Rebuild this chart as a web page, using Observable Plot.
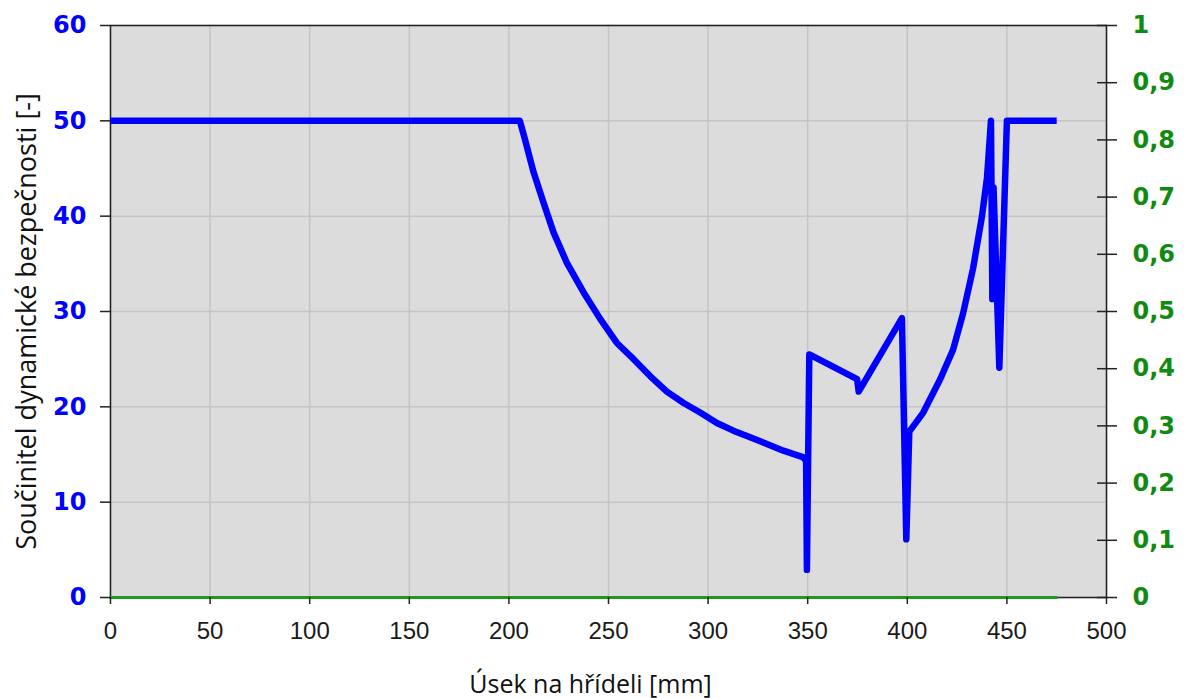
<!DOCTYPE html>
<html>
<head>
<meta charset="utf-8">
<script src="https://cdn.jsdelivr.net/npm/d3@7"></script>
<script src="https://cdn.jsdelivr.net/npm/@observablehq/plot@0.6"></script>
<style>
  html, body { margin: 0; padding: 0; background: #ffffff; }
  #chart svg { display: block; }
</style>
</head>
<body>
<div id="chart"></div>
<script>
// ---- data ----
const positions = [0, 205.5, 208, 212.4, 217.4, 222.4, 229.1, 237.5, 245.9, 254.2, 262.6, 271, 279.3, 287.7, 296, 304.4, 312.7, 321.1, 329.5, 337.8, 347.9, 349.2, 349.6, 350.8, 374.8, 375.6, 397.3, 399.5, 401, 408, 416.5, 423, 428, 433, 437.5, 440, 442, 442.7, 443.3, 446.2, 450, 475];
const safety    = [50, 50, 48.1, 44.6, 41.4, 38.3, 35.1, 32.0, 29.2, 26.7, 25.0, 23.2, 21.6, 20.4, 19.4, 18.3, 17.5, 16.8, 16.1, 15.4, 14.7, 14.3, 2.9, 25.5, 22.9, 21.6, 29.3, 6.1, 17.4, 19.4, 22.9, 26.0, 29.8, 34.5, 40.0, 44.0, 50.0, 31.3, 43.0, 24.1, 50, 50];
const greenX = [0, 475];
const greenValues = [0, 0];

const xTicks = [0, 50, 100, 150, 200, 250, 300, 350, 400, 450, 500];
const yTicks = [0, 10, 20, 30, 40, 50, 60];
const rightTicks = [0, 0.1, 0.2, 0.3, 0.4, 0.5, 0.6, 0.7, 0.8, 0.9, 1];
const rightMax = 1;
const yMax = 60;

const xTitle = "Úsek na hřídeli [mm]";
const yTitle = "Součinitel dynamické bezpečnosti [-]";

// ---- build ----
const blueData = positions.map((x, i) => ({x, y: safety[i]}));
const greenData = greenX.map((x, i) => ({x, y: greenValues[i] * yMax / rightMax}));
const rightTickPos = rightTicks.map(v => v * yMax / rightMax);
const rightFmt = d => String(+(d * rightMax / yMax).toFixed(1)).replace(".", ",");

const chart = Plot.plot({
  width: 1187,
  height: 698,
  marginLeft: 110,
  marginRight: 81,
  marginTop: 25,
  marginBottom: 101,
  style: { background: "#ffffff", fontFamily: "'Liberation Sans', Arial, sans-serif", overflow: "visible" },
  x: { domain: [0, 500] },
  y: { domain: [0, yMax] },
  marks: [
    Plot.frame({ fill: "#dcdcdc", stroke: "none" }),
    Plot.gridX(xTicks, { stroke: "#c4c4c4", strokeOpacity: 1, strokeWidth: 1.5 }),
    Plot.gridY(yTicks, { stroke: "#c4c4c4", strokeOpacity: 1, strokeWidth: 1.5 }),
    Plot.frame({ stroke: "#222222", strokeWidth: 1.5 }),
    Plot.line(greenData, { x: "x", y: "y", stroke: "#1f9a1f", strokeWidth: 3 }),
    Plot.line(blueData, { x: "x", y: "y", stroke: "#0000ff", strokeWidth: 6.5, strokeLinejoin: "round", strokeLinecap: "butt" }),
    Plot.axisX(xTicks, { tickSize: 7, tickPadding: 17, fontSize: 24, fill: "#1a1a1a", stroke: "#222222", strokeWidth: 1.5, label: null }),
    Plot.axisY(yTicks, { anchor: "left", tickSize: 10, tickPadding: 14, fontSize: 24, fontWeight: "bold", fontFamily: "'DejaVu Sans', sans-serif", fill: "#0000ff", stroke: "#222222", strokeWidth: 1.5, label: null }),
    Plot.axisY(rightTickPos, { anchor: "right", tickSize: 20, dx: -10, fill: "none", stroke: "#222222", strokeWidth: 1.5, label: null }),
    Plot.axisY(rightTickPos, { anchor: "right", tickSize: 0, tickPadding: 26, tickFormat: rightFmt, fontSize: 24, fontWeight: "bold", fontFamily: "'DejaVu Sans', sans-serif", fill: "#108a10", label: null }),
    Plot.text([xTitle], { frameAnchor: "bottom", textAnchor: "middle", lineAnchor: "middle", dx: -18, dy: 87, fontSize: 25, fontFamily: "'Open Sans', sans-serif", fill: "#111111" }),
    Plot.text([yTitle], { frameAnchor: "left", textAnchor: "middle", lineAnchor: "middle", rotate: -90, dx: -83, dy: 10, fontSize: 27, fontFamily: "'Open Sans', sans-serif", fill: "#111111" })
  ]
});
document.getElementById("chart").appendChild(chart);
</script>
</body>
</html>
